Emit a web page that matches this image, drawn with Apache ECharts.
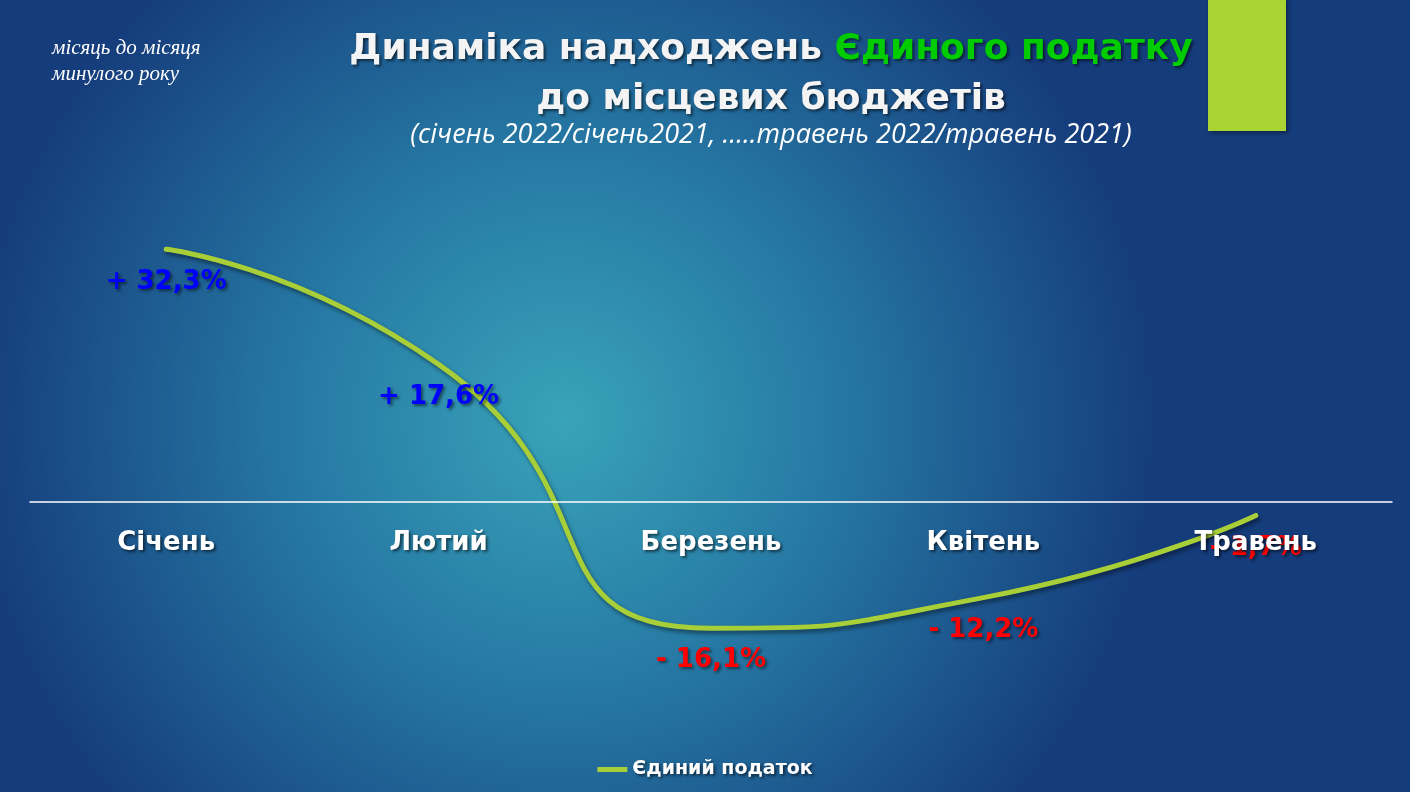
<!DOCTYPE html>
<html>
<head>
<meta charset="utf-8">
<script src="https://cdn.jsdelivr.net/npm/echarts@6/dist/echarts.min.js"></script>
<style>
html,body{margin:0;padding:0;width:1410px;height:792px;overflow:hidden;}
#c{width:1410px;height:792px;}
</style>
</head>
<body>
<div id="c"></div>
<script>
const categories = ['Січень', 'Лютий', 'Березень', 'Квітень', 'Травень'];
const values = [32.3, 17.6, -16.1, -12.2, -1.7];
const valueLabels = ['+ 32,3%', '+ 17,6%', '- 16,1%', '- 12,2%', '- 1,7%'];
const seriesName = 'Єдиний податок';

const chart = echarts.init(document.getElementById('c'));
const shadow = {textShadowColor: 'rgba(0,0,0,0.55)', textShadowBlur: 3, textShadowOffsetX: 2, textShadowOffsetY: 2};

const seriesData = values.map((v, i) => ({
  value: v,
  label: {
    show: true, position: 'bottom', distance: 19,
    formatter: valueLabels[i],
    fontSize: 26, fontWeight: 'bold', fontFamily: 'DejaVu Sans',
    color: v < 0 ? '#ff0000' : '#0000ff',
    textShadowColor: 'rgba(0,0,0,0.5)', textShadowBlur: 3, textShadowOffsetX: 2, textShadowOffsetY: 2
  }
}));

chart.setOption({
  backgroundColor: {
    type: 'radial', x: 0.4, y: 0.53, r: 0.75,
    colorStops: [
      {offset: 0, color: '#39a3b9'},
      {offset: 0.45, color: '#2679a4'},
      {offset: 1, color: '#153c7b'}
    ]
  },
  title: [{
    text: '{w|Динаміка надходжень }{g|Єдиного податку}\n{w|до місцевих бюджетів}',
    left: 766, top: 20, textAlign: 'center',
    textStyle: {
      lineHeight: 50,
      rich: {
        w: Object.assign({color: '#f4f4f4', fontSize: 36, fontWeight: 'bold', fontFamily: 'DejaVu Sans', lineHeight: 50}, shadow),
        g: Object.assign({color: '#00cc00', fontSize: 36, fontWeight: 'bold', fontFamily: 'DejaVu Sans', lineHeight: 50}, shadow)
      }
    }
  }, {
    text: '(січень 2022/січень2021, …..травень 2022/травень 2021)',
    left: 766, top: 117, textAlign: 'center',
    textStyle: {color: '#ffffff', fontSize: 27, fontStyle: 'italic', fontWeight: 'normal', fontFamily: 'Open Sans'}
  }, {
    text: 'місяць до місяця\nминулого року',
    left: 47, top: 30,
    textStyle: {color: '#ffffff', fontSize: 21, fontStyle: 'italic', fontWeight: 'normal', fontFamily: 'Liberation Serif', lineHeight: 26}
  }],
  graphic: [{
    type: 'rect', shape: {x: 1208, y: -2, width: 78, height: 133},
    style: {fill: '#aad434', shadowColor: 'rgba(0,0,0,0.4)', shadowBlur: 4, shadowOffsetX: 2, shadowOffsetY: 2}
  }],
  legend: {
    bottom: 8, left: 'center',
    itemWidth: 30, itemHeight: 14,
    itemStyle: {color: '#a8cf38'},
    textStyle: Object.assign({color: '#ffffff', fontSize: 19, fontWeight: 'bold', fontFamily: 'DejaVu Sans'}, shadow),
    data: [{name: seriesName, icon: 'path://M0,0 L30,0 L30,5 L0,5 Z'}]
  },
  grid: {left: 30, right: 18, top: 189, bottom: 55},
  xAxis: {
    type: 'category', data: categories, boundaryGap: true, z: 10,
    axisLine: {onZero: true, lineStyle: {color: '#ffffff', width: 1.5}},
    axisTick: {show: false},
    axisLabel: Object.assign({color: '#ffffff', fontSize: 26, fontWeight: 'bold', fontFamily: 'DejaVu Sans', margin: -207}, shadow)
  },
  yAxis: {
    type: 'value', min: -30, max: 40, show: true,
    axisLine: {show: false}, axisTick: {show: false}, axisLabel: {show: false},
    splitLine: {show: false}
  },
  series: [{
    name: seriesName, type: 'line', data: seriesData, smooth: 0.6,
    symbol: 'circle', symbolSize: 1, showSymbol: true, z: 2,
    lineStyle: {color: '#a8cf38', width: 5, cap: 'round', shadowColor: 'rgba(0,0,0,0.45)', shadowBlur: 4, shadowOffsetX: 2, shadowOffsetY: 3},
    itemStyle: {color: '#a8cf38'},
    label: {show: true},
    labelLayout: {hideOverlap: false},
    emphasis: {disabled: true}
  }]
});
</script>
</body>
</html>
